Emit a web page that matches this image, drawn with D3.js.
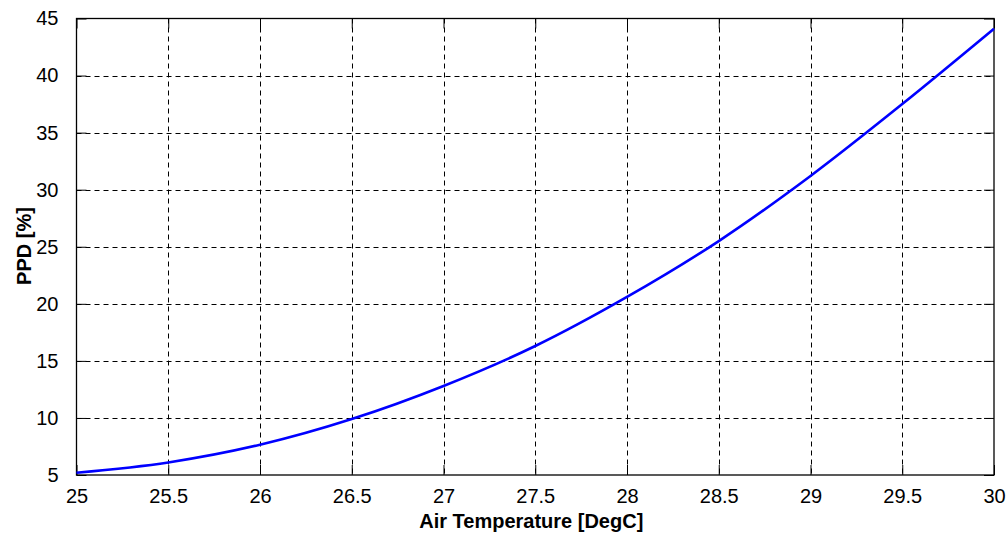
<!DOCTYPE html>
<html>
<head>
<meta charset="utf-8">
<script src="https://cdn.jsdelivr.net/npm/d3@7"></script>
<style>
  body { margin: 0; background: #fff; }
  text { font-family: "Liberation Sans", Arial, sans-serif; fill: #000; }
</style>
</head>
<body>
<svg width="1008" height="534"></svg>
<script>
// air temperature (DegC) vs PPD (%)
const temps = [25, 25.5, 26, 26.5, 27, 27.5, 28, 28.5, 29, 29.5, 30];
const ppd = [5.2, 6.1, 7.65, 9.9, 12.8, 16.3, 20.6, 25.5, 31.2, 37.5, 44.1];
const xTicks = [25, 25.5, 26, 26.5, 27, 27.5, 28, 28.5, 29, 29.5, 30];
const yTicks = [5, 10, 15, 20, 25, 30, 35, 40, 45];

const svg = d3.select("svg");
const plotLeft = 76.5, plotRight = 994, plotTop = 18.5, plotBottom = 475;

const x = d3.scaleLinear().domain([25, 30]).range([plotLeft, plotRight]);
const y = d3.scaleLinear().domain([5, 45]).range([plotBottom, plotTop]);

// grid
const grid = svg.append("g")
  .attr("stroke", "#000")
  .attr("stroke-width", 1)
  .attr("stroke-dasharray", "5,4");

grid.selectAll(".vgrid")
  .data(xTicks.slice(1, -1))
  .enter().append("line")
  .attr("x1", d => Math.round(x(d)) + 0.5)
  .attr("x2", d => Math.round(x(d)) + 0.5)
  .attr("y1", plotTop)
  .attr("y2", plotBottom);

grid.selectAll(".hgrid")
  .data(yTicks.slice(1, -1))
  .enter().append("line")
  .attr("y1", d => Math.round(y(d)) + 0.5)
  .attr("y2", d => Math.round(y(d)) + 0.5)
  .attr("x1", plotLeft)
  .attr("x2", plotRight);

// axes, ticks inward on all four sides
const tickLen = 10;
const xb = svg.append("g").attr("transform", `translate(0,${plotBottom})`)
  .call(d3.axisBottom(x).tickValues(xTicks).tickSizeInner(-tickLen).tickSizeOuter(0).tickPadding(tickLen + 4)
    .tickFormat(d3.format("")));
const yl = svg.append("g").attr("transform", `translate(${plotLeft},0)`)
  .call(d3.axisLeft(y).tickValues(yTicks).tickSizeInner(-tickLen).tickSizeOuter(0).tickPadding(tickLen + 8));
const xt = svg.append("g").attr("transform", `translate(0,${plotTop})`)
  .call(d3.axisTop(x).tickValues(xTicks).tickSizeInner(-tickLen).tickSizeOuter(0).tickFormat(""));
const yr = svg.append("g").attr("transform", `translate(${plotRight},0)`)
  .call(d3.axisRight(y).tickValues(yTicks).tickSizeInner(-tickLen).tickSizeOuter(0).tickFormat(""));

[xb, yl, xt, yr].forEach(g => {
  g.select(".domain").remove();
  g.selectAll("line").attr("stroke", "#000").attr("stroke-width", 1);
  g.selectAll("text").style("font-size", "20px").attr("fill", "#000");
});
xb.selectAll("text").attr("dy", "0.72em");

// box
svg.append("rect")
  .attr("x", plotLeft).attr("y", plotTop)
  .attr("width", plotRight - plotLeft).attr("height", plotBottom - plotTop)
  .attr("fill", "none").attr("stroke", "#000").attr("stroke-width", 1.3);

// curve
const line = d3.line()
  .x((d, i) => x(temps[i]))
  .y(d => y(d))
  .curve(d3.curveMonotoneX);

svg.append("path")
  .datum(ppd)
  .attr("d", line)
  .attr("fill", "none")
  .attr("stroke", "#0000ff")
  .attr("stroke-width", 2.6);

// axis labels
svg.append("text")
  .attr("x", (plotLeft + plotRight) / 2 - 4)
  .attr("y", 528)
  .attr("text-anchor", "middle")
  .style("font-size", "20px")
  .style("font-weight", "bold")
  .text("Air Temperature [DegC]");

svg.append("text")
  .attr("transform", "translate(31,246) rotate(-90)")
  .attr("text-anchor", "middle")
  .style("font-size", "20px")
  .style("font-weight", "bold")
  .text("PPD [%]");
</script>
</body>
</html>
